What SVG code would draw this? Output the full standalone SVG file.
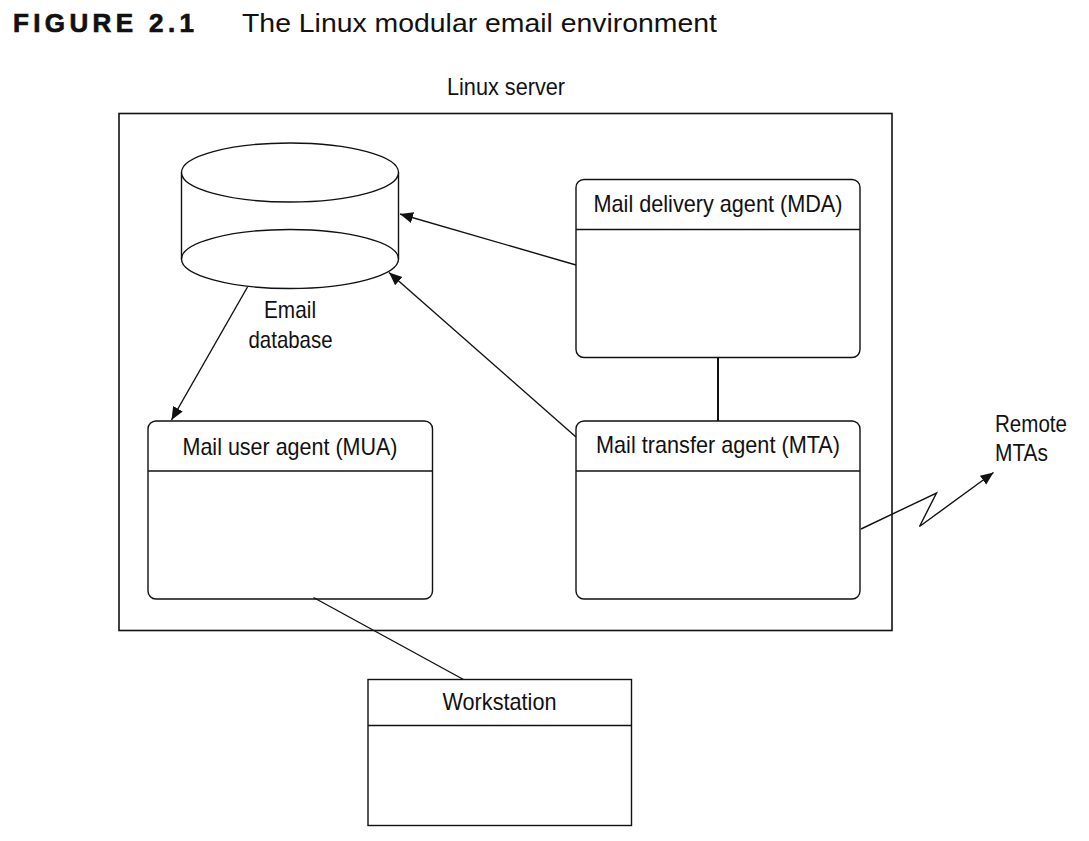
<svg xmlns="http://www.w3.org/2000/svg" width="1089" height="841" viewBox="0 0 1089 841">
<defs>
<style>
.t{font-family:"Liberation Sans Narrow","Liberation Sans",Arial,sans-serif;fill:#111;}
.lbl{font-size:24px;}
.box{fill:#fff;stroke:#111;stroke-width:1.4;}
.ln{fill:none;stroke:#111;stroke-width:1.4;}
</style>
<marker id="ah" markerUnits="userSpaceOnUse" markerWidth="14" markerHeight="12" refX="13" refY="5.5" orient="auto">
<path d="M0,0 L13,5.5 L0,11 z" fill="#111"/>
</marker>
</defs>
<rect width="1089" height="841" fill="#fff"/>
<g id="title">
<text x="13" y="32" font-family="'Liberation Sans',Arial,sans-serif" font-weight="bold" font-size="26" letter-spacing="5" textLength="186" fill="#111" stroke="#111" stroke-width="0.7">FIGURE 2.1</text>
<text class="t" x="242" y="32" font-size="25.5" textLength="475" lengthAdjust="spacingAndGlyphs">The Linux modular email environment</text>
</g>
<g id="server">
<rect x="119" y="113.5" width="773" height="517" fill="none" stroke="#111" stroke-width="1.6"/>
<text class="t lbl" x="506" y="95" text-anchor="middle" textLength="118" lengthAdjust="spacingAndGlyphs">Linux server</text>
</g>
<g id="database">
<path d="M181.5,172.5 V259 A108.5,29.5 0 0 0 398.5,259 V172.5" class="box"/>
<ellipse cx="290" cy="172.5" rx="108.5" ry="29.5" class="box"/>
<path d="M181.5,259 A108.5,29.5 0 0 1 398.5,259" class="ln"/>
<text class="t lbl" x="290" y="318" text-anchor="middle" textLength="52" lengthAdjust="spacingAndGlyphs">Email</text>
<text class="t lbl" x="290.5" y="348" text-anchor="middle" textLength="84" lengthAdjust="spacingAndGlyphs">database</text>
</g>
<g id="mda">
<rect x="576" y="179.5" width="284" height="178" rx="8" class="box"/>
<line x1="576" y1="229.5" x2="860" y2="229.5" class="ln"/>
<text class="t lbl" x="718" y="212" text-anchor="middle" textLength="249" lengthAdjust="spacingAndGlyphs">Mail delivery agent (MDA)</text>
</g>
<g id="mta">
<rect x="576" y="421" width="284" height="178" rx="8" class="box"/>
<line x1="576" y1="471" x2="860" y2="471" class="ln"/>
<text class="t lbl" x="718" y="453" text-anchor="middle" textLength="244" lengthAdjust="spacingAndGlyphs">Mail transfer agent (MTA)</text>
</g>
<g id="mua">
<rect x="148" y="421" width="284.5" height="178" rx="8" class="box"/>
<line x1="148" y1="471" x2="432.5" y2="471" class="ln"/>
<text class="t lbl" x="290" y="455" text-anchor="middle" textLength="215" lengthAdjust="spacingAndGlyphs">Mail user agent (MUA)</text>
</g>
<g id="workstation">
<rect x="368" y="679.5" width="263.5" height="146" class="box"/>
<line x1="368" y1="725.5" x2="631.5" y2="725.5" class="ln"/>
<text class="t lbl" x="499.5" y="710" text-anchor="middle" textLength="114" lengthAdjust="spacingAndGlyphs">Workstation</text>
</g>
<g id="remote">
<text class="t lbl" x="995" y="432" textLength="72" lengthAdjust="spacingAndGlyphs">Remote</text>
<text class="t lbl" x="995" y="461" textLength="53" lengthAdjust="spacingAndGlyphs">MTAs</text>
</g>
<g id="connectors">
<line x1="576" y1="265" x2="400" y2="214" class="ln" marker-end="url(#ah)"/>
<line x1="576" y1="437" x2="389" y2="272.5" class="ln" marker-end="url(#ah)"/>
<line x1="247.5" y1="287" x2="171.5" y2="420" class="ln" marker-end="url(#ah)"/>
<line x1="718" y1="357.5" x2="718" y2="421" fill="none" stroke="#111" stroke-width="2"/>
<line x1="313.5" y1="597.5" x2="463.5" y2="679.5" class="ln"/>
<polyline points="861,529 936.5,493 919.5,526.5 993.5,472.5" class="ln" marker-end="url(#ah)"/>
</g>
</svg>
